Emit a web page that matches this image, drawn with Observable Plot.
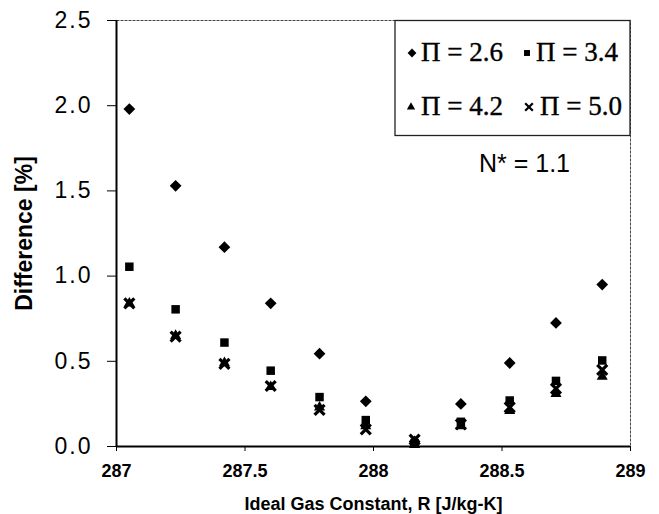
<!DOCTYPE html>
<html>
<head>
<meta charset="utf-8">
<script src="https://cdn.jsdelivr.net/npm/d3@7"></script>
<script src="https://cdn.jsdelivr.net/npm/@observablehq/plot@0.6"></script>
<style>
  html, body { margin: 0; padding: 0; background: #fff; }
  #chart { width: 659px; height: 514px; }
  svg { display: block; }
</style>
</head>
<body>
<div id="chart"></div>
<script>
// ---- Data ----
const R = [287.05, 287.23, 287.42, 287.60, 287.79, 287.97, 288.16, 288.34, 288.53, 288.71, 288.89];
const pi26 = [1.98, 1.53, 1.17, 0.84, 0.545, 0.265, 0.03, 0.25, 0.49, 0.725, 0.95];
const pi34 = [1.055, 0.805, 0.61, 0.445, 0.29, 0.155, 0.02, 0.145, 0.27, 0.385, 0.505];
const pi42 = [0.84, 0.65, 0.49, 0.35, 0.23, 0.12, 0.01, 0.12, 0.21, 0.31, 0.41];
const pi50 = [0.84, 0.645, 0.485, 0.355, 0.215, 0.10, 0.04, 0.13, 0.23, 0.34, 0.45];
const seriesNames = ["\u03A0 = 2.6", "\u03A0 = 3.4", "\u03A0 = 4.2", "\u03A0 = 5.0"];
const xTicks = [287, 287.5, 288, 288.5, 289];
const yTicks = [0, 0.5, 1.0, 1.5, 2.0, 2.5];
const xLabel = "Ideal Gas Constant, R [J/kg-K]";
const yLabel = "Difference [%]";
const note = "N* = 1.1";

const toRows = (vals) => R.map((r, i) => ({r, v: vals[i]}));
const d26 = toRows(pi26), d34 = toRows(pi34), d42 = toRows(pi42), d50 = toRows(pi50);

const chart = Plot.plot({
  width: 659,
  height: 514,
  marginLeft: 116,
  marginRight: 29,
  marginTop: 20,
  marginBottom: 68,
  style: {fontFamily: "'Liberation Sans', Arial, sans-serif", background: "#fff", color: "#000"},
  x: {domain: [287, 289]},
  y: {domain: [0, 2.5]},
  marks: [
    Plot.frame({stroke: "#444", strokeWidth: 1, strokeDasharray: "3,1"}),
    Plot.axisY({ticks: yTicks, tickFormat: d3.format(".1f"), tickSize: 9, tickPadding: 15,
      fontSize: 23, label: null}),
    Plot.axisX({ticks: xTicks, tickFormat: d => String(d), tickSize: 5, tickPadding: 13,
      fontSize: 18, fontWeight: "bold", label: null}),
    Plot.ruleX([287], {stroke: "#000", strokeWidth: 2}),
    Plot.ruleY([0], {stroke: "#000", strokeWidth: 2}),
    Plot.dot(d26, {x: "r", y: "v", symbol: "diamond2", r: 5.3, fill: "#000"}),
    Plot.dot(d34, {x: "r", y: "v", symbol: "square2", r: 5.4, fill: "#000"}),
    Plot.dot(d42, {x: "r", y: "v", symbol: "triangle2", r: 5.3, fill: "#000"}),
    Plot.dot(d50, {x: "r", y: "v", symbol: "times", r: 4.6, stroke: "#000", strokeWidth: 3.2}),
    Plot.text([yLabel], {frameAnchor: "left", dx: -92, rotate: -90, textAnchor: "middle", lineAnchor: "middle",
      fontSize: 23, fontWeight: "bold", text: d => d}),
    Plot.text([xLabel], {frameAnchor: "bottom", dy: 58, textAnchor: "middle", lineAnchor: "middle",
      fontSize: 18, fontWeight: "bold", text: d => d}),
    Plot.text([note], {frameAnchor: "top-right", dx: -106, dy: 143, fontSize: 25, textAnchor: "middle",
      lineAnchor: "middle", text: d => d})
  ]
});

const svg = d3.select(chart);
svg.selectAll('g[aria-label="y-axis tick label"] text').style("letter-spacing", "2px");

// ---- Legend box (drawn into the same SVG) ----
const lg = svg.append("g").attr("class", "legend");
lg.append("rect").attr("x", 395).attr("y", 20.5).attr("width", 235).attr("height", 115)
  .attr("fill", "#fff").attr("stroke", "#222").attr("stroke-width", 1.3);
const items = [
  {sym: d3.symbolDiamond2, sx: 412, sy: 53, tx: 421, ty: 61, label: seriesNames[0], fill: true, size: 50},
  {sym: d3.symbolSquare2, sx: 527, sy: 53, tx: 536, ty: 61, label: seriesNames[1], fill: true, size: 45},
  {sym: d3.symbolTriangle2, sx: 411, sy: 107, tx: 421, ty: 115, label: seriesNames[2], fill: true, size: 50},
  {sym: d3.symbolTimes, sx: 529, sy: 107, tx: 540, ty: 115, label: seriesNames[3], fill: false, size: 40}
];
for (const it of items) {
  const p = lg.append("path").attr("d", d3.symbol(it.sym, it.size)())
    .attr("transform", `translate(${it.sx},${it.sy})`);
  if (it.fill) p.attr("fill", "#000"); else p.attr("fill", "none").attr("stroke", "#000").attr("stroke-width", 2.2);
  lg.append("text").attr("x", it.tx).attr("y", it.ty)
    .attr("text-anchor", "start")
    .attr("font-family", "'Liberation Serif', 'Times New Roman', serif")
    .attr("font-size", 27).attr("fill", "#000").attr("stroke", "#000").attr("stroke-width", 0.4)
    .text(it.label);
}
document.getElementById("chart").appendChild(chart);
</script>
</body>
</html>
